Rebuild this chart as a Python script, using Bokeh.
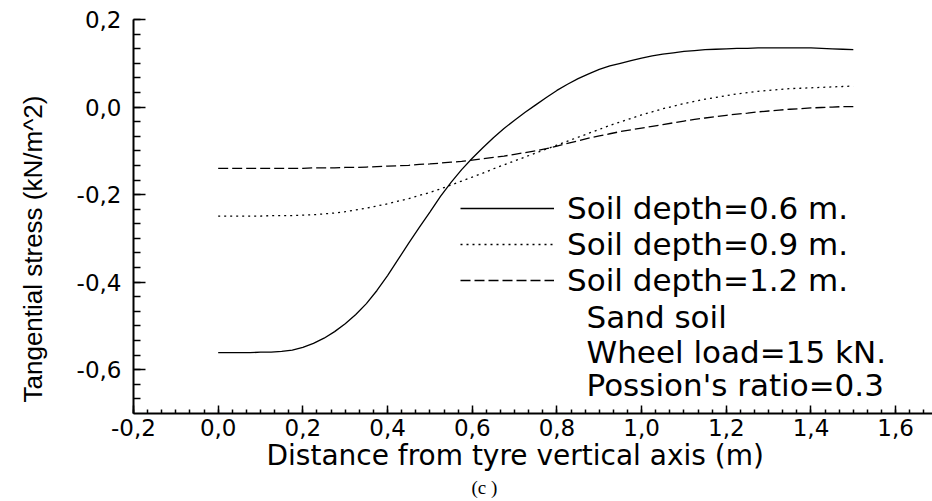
from bokeh.plotting import figure
from bokeh.models import (Range1d, SingleIntervalTicker, CustomJSTickFormatter,
                          Legend, LegendItem, Label, Title)
from bokeh.embed import file_html
from bokeh.resources import INLINE

# distance from tyre vertical axis (m)
distance = [0.000, 0.025, 0.050, 0.075, 0.100, 0.125, 0.150, 0.175, 0.200, 0.225,
            0.250, 0.275, 0.300, 0.325, 0.350, 0.375, 0.400, 0.425, 0.450, 0.475,
            0.500, 0.525, 0.550, 0.575, 0.600, 0.625, 0.650, 0.675, 0.700, 0.725,
            0.750, 0.775, 0.800, 0.825, 0.850, 0.875, 0.900, 0.925, 0.950, 0.975,
            1.000, 1.025, 1.050, 1.075, 1.100, 1.125, 1.150, 1.175, 1.200, 1.225,
            1.250, 1.275, 1.300, 1.325, 1.350, 1.375, 1.400, 1.425, 1.450, 1.475,
            1.500]

# tangential stress (kN/m^2)
depth_06 = [-0.561, -0.561, -0.561, -0.561, -0.560, -0.560, -0.558, -0.555, -0.549, -0.540,
            -0.528, -0.513, -0.495, -0.474, -0.449, -0.419, -0.385, -0.348, -0.311, -0.275,
            -0.240, -0.204, -0.172, -0.143, -0.117, -0.093, -0.070, -0.049, -0.030, -0.012,
            0.005, 0.022, 0.038, 0.052, 0.065, 0.076, 0.086, 0.094, 0.100, 0.106,
            0.112, 0.117, 0.121, 0.124, 0.127, 0.129, 0.131, 0.132, 0.133, 0.134,
            0.134, 0.135, 0.135, 0.135, 0.135, 0.135, 0.135, 0.134, 0.133, 0.132,
            0.131]
depth_09 = [-0.249, -0.249, -0.249, -0.249, -0.249, -0.248, -0.248, -0.248, -0.247, -0.246,
            -0.244, -0.242, -0.239, -0.235, -0.231, -0.226, -0.221, -0.215, -0.209, -0.202,
            -0.195, -0.187, -0.178, -0.169, -0.160, -0.151, -0.141, -0.132, -0.123, -0.114,
            -0.105, -0.096, -0.087, -0.078, -0.069, -0.060, -0.051, -0.042, -0.034, -0.026,
            -0.018, -0.011, -0.004, 0.002, 0.008, 0.013, 0.018, 0.022, 0.026, 0.030,
            0.033, 0.036, 0.038, 0.040, 0.042, 0.043, 0.044, 0.045, 0.046, 0.047,
            0.048]
depth_12 = [-0.140, -0.140, -0.140, -0.140, -0.140, -0.140, -0.140, -0.140, -0.140, -0.139,
            -0.139, -0.139, -0.138, -0.138, -0.137, -0.136, -0.135, -0.134, -0.133, -0.131,
            -0.130, -0.128, -0.126, -0.124, -0.121, -0.118, -0.115, -0.112, -0.108, -0.104,
            -0.100, -0.095, -0.089, -0.083, -0.077, -0.071, -0.066, -0.061, -0.056, -0.052,
            -0.048, -0.044, -0.040, -0.036, -0.032, -0.028, -0.025, -0.022, -0.019, -0.016,
            -0.014, -0.011, -0.009, -0.007, -0.005, -0.004, -0.002, -0.001, 0.000, 0.001,
            0.001]

series_labels = ["Soil depth=0.6 m.", "Soil depth=0.9 m.", "Soil depth=1.2 m."]
notes = ["Sand soil", "Wheel load=15 kN.", "Possion's ratio=0.3"]

FONT = "DejaVu Sans"
NB = "\u00a0"

p = figure(width=932, height=501, output_backend="svg", toolbar_location=None,
           x_range=Range1d(-0.2, 1.687), y_range=Range1d(-0.7, 0.2),
           min_border_left=133, min_border_right=0, min_border_top=19,
           min_border_bottom=88)
p.outline_line_color = None
p.grid.visible = False
p.background_fill_color = "white"

fmt = CustomJSTickFormatter(code="""
    var s = tick.toFixed(1);
    if (s == '-0.0') { s = '0.0'; }
    return s.replace('.', ',');
""")

xa = p.xaxis[0]
xa.ticker = SingleIntervalTicker(interval=0.2, num_minor_ticks=6)
xa.formatter = fmt
ya = p.yaxis[0]
ya.ticker = SingleIntervalTicker(interval=0.2, num_minor_ticks=6)
ya.formatter = fmt

for ax in (xa, ya):
    ax.axis_line_width = 2
    ax.axis_line_color = "black"
    ax.major_tick_line_color = "black"
    ax.minor_tick_line_color = "black"
    ax.major_tick_line_width = 1.5
    ax.minor_tick_line_width = 1.5
    ax.major_tick_out = 0
    ax.minor_tick_out = 0
    ax.major_label_text_font = FONT
    ax.major_label_text_font_size = "23px"
    ax.major_label_text_color = "black"
    ax.axis_label_text_color = "black"
    ax.axis_label_text_font_style = "normal"

xa.major_tick_in = 8
xa.minor_tick_in = 4
ya.major_tick_in = 12
ya.minor_tick_in = 7
xa.major_label_standoff = 5
ya.major_label_standoff = 12

xa.axis_label = "Distance from tyre vertical axis (m)" + NB * 4
xa.axis_label_text_font = FONT
xa.axis_label_text_font_size = "28px"
xa.axis_label_standoff = 0

ya.axis_label = "Tangential stress (kN/m^2)" + NB * 9
ya.axis_label_text_font = "Liberation Sans"
ya.axis_label_text_font_size = "26px"
ya.axis_label_standoff = 26

r1 = p.line(distance, depth_06, line_color="black", line_width=1.3)
r2 = p.line(distance, depth_09, line_color="black", line_width=1.3, line_dash="2 4")
r3 = p.line(distance, depth_12, line_color="black", line_width=1.3, line_dash="10 4")

legend = Legend(items=[LegendItem(label=series_labels[0], renderers=[r1]),
                       LegendItem(label=series_labels[1], renderers=[r2]),
                       LegendItem(label=series_labels[2], renderers=[r3])],
                location=(327, 115), glyph_width=94, glyph_height=34,
                label_height=34, label_standoff=13, spacing=0, padding=0,
                margin=0, border_line_color=None, background_fill_alpha=0,
                label_text_font=FONT, label_text_font_size="31px",
                label_text_color="black")
p.add_layout(legend)

note_y = [-0.480, -0.560, -0.636]
for t, yy in zip(notes, note_y):
    p.add_layout(Label(x=0.870, y=yy, text=t, text_baseline="middle",
                       text_font=FONT, text_font_size="31px", text_color="black"))

cap = Title(text="(c )", align="left", offset=338, standoff=0,
            text_font="Liberation Serif", text_font_size="19px",
            text_font_style="normal", text_color="black")
p.add_layout(cap, "below")

open("out.html", "w").write(file_html(p, INLINE))
